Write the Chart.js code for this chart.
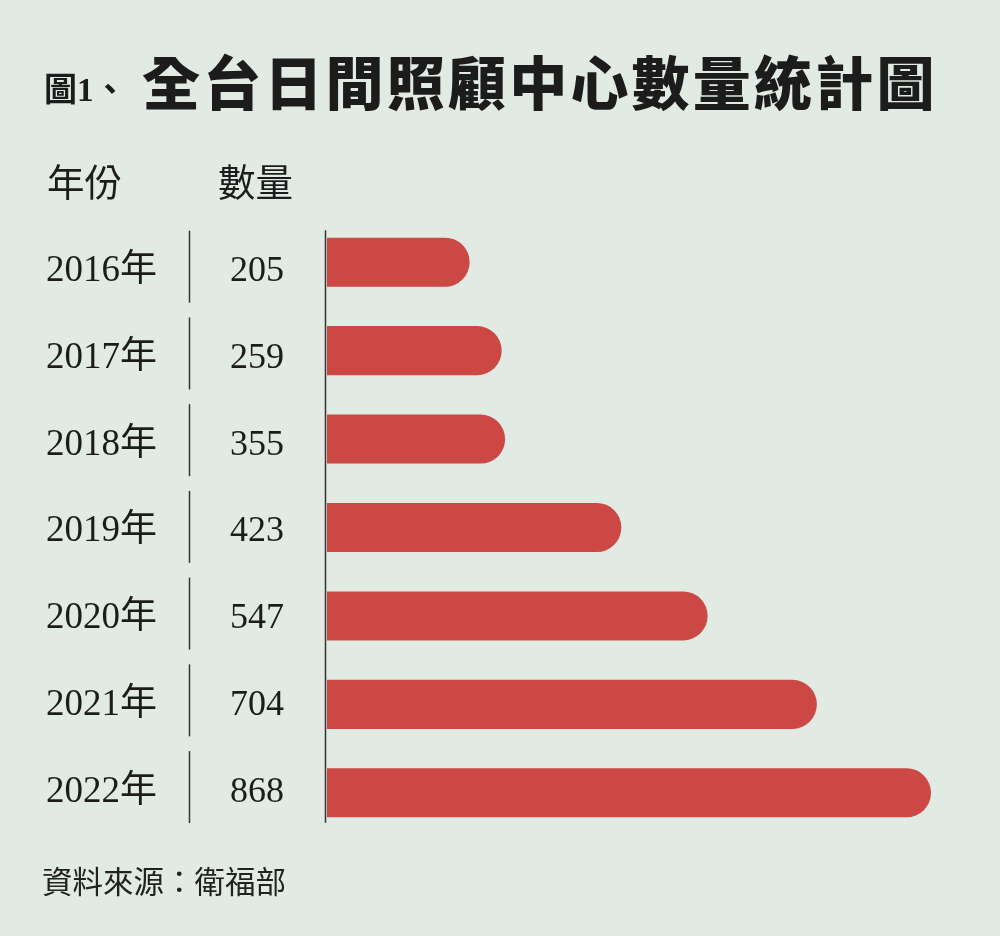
<!DOCTYPE html>
<html lang="zh-Hant">
<head>
    <meta charset="UTF-8">
    <title>全台日間照顧中心數量統計圖</title>
    <script src="https://cdn.jsdelivr.net/npm/chart.js"></script>
    <style>
        body {
            margin: 0;
            background-color: #e1ebe3;
        }
        canvas {
            display: block;
        }
    </style>
</head>
<body>
    <canvas id="chart" width="1000" height="936"></canvas>

    <script>
        const years = ["2016年", "2017年", "2018年", "2019年", "2020年", "2021年", "2022年"];
        const counts = [205, 259, 355, 423, 547, 704, 868]; // numbers printed in the table
        const barLengths = [205, 251, 256, 423, 547, 704, 868]; // bar lengths as drawn in the picture
        const xMax = 868;

        const titleSmall = "圖1、";
        const titleMain = "全台日間照顧中心數量統計圖";
        const headYear = "年份";
        const headCount = "數量";
        const source = "資料來源：衛福部";

        const ink = "#1c1c1c";
        const serif = "'Liberation Serif', 'Noto Sans CJK TC', serif";
        const sans = "'Noto Sans CJK TC', sans-serif";

        // table text, separators and the left axis line
        const tablePlugin = {
            id: "table",
            afterDraw(chart) {
                const ctx = chart.ctx;
                const yScale = chart.scales.y;
                const area = chart.chartArea;
                ctx.save();
                ctx.fillStyle = ink;
                ctx.textBaseline = "alphabetic";

                // title
                ctx.font = "bold 33px " + serif;
                ctx.textAlign = "left";
                ctx.fillText(titleSmall, 44, 101);
                ctx.font = "900 58px " + sans;
                ctx.letterSpacing = "3.2px";
                ctx.fillText(titleMain, 142, 105);
                ctx.letterSpacing = "0px";

                // column heads
                ctx.font = "37.5px " + sans;
                ctx.fillText(headYear, 47, 196);
                ctx.fillText(headCount, 218, 196);

                // axis line
                ctx.strokeStyle = "#333";
                ctx.lineWidth = 1.5;
                ctx.beginPath();
                ctx.moveTo(area.left - 1.5, yScale.getPixelForValue(0) - 32);
                ctx.lineTo(area.left - 1.5, yScale.getPixelForValue(years.length - 1) + 30);
                ctx.stroke();

                years.forEach((yr, i) => {
                    // the printed rows sit on a slightly tighter pitch than the bars
                    const tc = yScale.getPixelForValue(i) + 6.5 - 1.7 * i;

                    ctx.beginPath();
                    ctx.moveTo(189.5, tc - 38);
                    ctx.lineTo(189.5, tc + 34);
                    ctx.stroke();

                    ctx.font = "37px " + serif;
                    ctx.textAlign = "left";
                    ctx.fillText(yr, 46, tc + 12.5);
                    ctx.font = "36px " + serif;
                    ctx.textAlign = "center";
                    ctx.fillText(String(counts[i]), 257, tc + 12.5);
                });

                // source
                ctx.textAlign = "left";
                ctx.font = "30.5px " + sans;
                ctx.fillStyle = "#222";
                ctx.fillText(source, 42, 893);
                ctx.restore();
            }
        };

        const ctx = document.getElementById("chart").getContext("2d");
        const chart = new Chart(ctx, {
            type: "bar",
            data: {
                labels: years,
                datasets: [{
                    data: barLengths,
                    backgroundColor: "#cb4844",
                    borderRadius: 30,
                    borderSkipped: "start",
                    barPercentage: 0.555,
                    categoryPercentage: 1
                }]
            },
            options: {
                indexAxis: "y",
                responsive: false,
                animation: false,
                devicePixelRatio: 1,
                layout: {
                    padding: { left: 327, right: 69, top: 218, bottom: 99 }
                },
                scales: {
                    x: { display: false, min: 0, max: xMax },
                    y: { display: false }
                },
                plugins: {
                    legend: { display: false },
                    tooltip: { enabled: false }
                }
            },
            plugins: [tablePlugin]
        });
    </script>
</body>
</html>
